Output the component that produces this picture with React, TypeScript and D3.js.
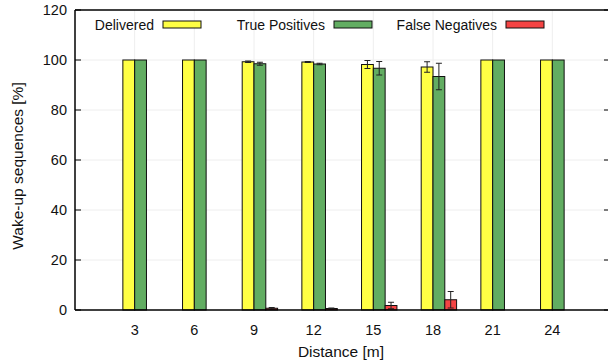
import React from "react";
import * as d3 from "d3";

const distances = [3, 6, 9, 12, 15, 18, 21, 24];
const delivered = [100, 100, 99.3, 99.2, 98.2, 97.2, 100, 100];
const deliveredErr = [0, 0, 0.3, 0.2, 1.6, 2.1, 0, 0];
const truePos = [100, 100, 98.5, 98.4, 96.7, 93.4, 100, 100];
const truePosErr = [0, 0, 0.6, 0.3, 2.7, 5.3, 0, 0];
const falseNeg = [0, 0, 0.7, 0.6, 1.8, 4.1, 0, 0];
const falseNegErr = [0, 0, 0.3, 0.2, 1.3, 3.3, 0, 0];
const yTicks = [0, 20, 40, 60, 80, 100, 120];

const series = [
  { name: "Delivered", values: delivered, errs: deliveredErr, color: "#ffff44", offset: -1 },
  { name: "True Positives", values: truePos, errs: truePosErr, color: "#62ad62", offset: 0 },
  { name: "False Negatives", values: falseNeg, errs: falseNegErr, color: "#f44444", offset: 1 },
];

export default function App() {
  const W = 608, H = 360;
  const left = 75, right = 612, top = 10, bottom = 310;
  const x = d3.scaleLinear().domain([0, 27]).range([left, right]);
  const y = d3.scaleLinear().domain([0, 120]).range([bottom, top]);
  const bw = 11.8;
  const font = "'Liberation Sans', Arial, sans-serif";
  const legendPos = [
    { tx: 154, bx: 163 },
    { tx: 325, bx: 334 },
    { tx: 497, bx: 506 },
  ];
  return (
    <svg width={W} height={H} style={{ position: "absolute", left: 0, top: 0, background: "#fff" }} fontFamily={font}>
      {yTicks.slice(1, -1).map((t) => (
        <line key={"gy" + t} x1={left} x2={right} y1={y(t)} y2={y(t)} stroke="#eeeeee" strokeWidth={1} />
      ))}
      {distances.map((d) => (
        <line key={"gx" + d} x1={x(d)} x2={x(d)} y1={top} y2={bottom} stroke="#eeeeee" strokeWidth={1} />
      ))}
      {series.map((s) =>
        distances.map((d, i) => {
          const x0 = x(d) + s.offset * bw;
          const v = s.values[i];
          const yt = y(v);
          return (
            <g key={s.name + d}>
              {v > 0 && (
                <rect x={x0} y={yt} width={bw} height={bottom - yt} fill={s.color} stroke="#111" strokeWidth={1} />
              )}
              {s.errs[i] > 0 && (
                <g stroke="#222" strokeWidth={1}>
                  <line x1={x0 + bw / 2} x2={x0 + bw / 2} y1={y(v + s.errs[i])} y2={y(Math.max(0, v - s.errs[i]))} />
                  <line x1={x0 + bw / 2 - 3} x2={x0 + bw / 2 + 3} y1={y(v + s.errs[i])} y2={y(v + s.errs[i])} />
                  <line x1={x0 + bw / 2 - 3} x2={x0 + bw / 2 + 3} y1={y(v - s.errs[i])} y2={y(v - s.errs[i])} />
                </g>
              )}
            </g>
          );
        })
      )}
      <line x1={left} x2={right} y1={top} y2={top} stroke="#000" strokeWidth={1.5} />
      <line x1={left} x2={right} y1={bottom} y2={bottom} stroke="#000" strokeWidth={1.5} />
      <line x1={left} x2={left} y1={top} y2={bottom} stroke="#000" strokeWidth={1.5} />
      <line x1={right} x2={right} y1={top} y2={bottom} stroke="#000" strokeWidth={1.5} />
      {yTicks.map((t) => (
        <g key={"yt" + t}>
          <line x1={left} x2={left + 6} y1={y(t)} y2={y(t)} stroke="#000" />
          <line x1={right - 8} x2={right} y1={y(t)} y2={y(t)} stroke="#000" />
          <text x={67} y={y(t) + 5} textAnchor="end" fontSize={14.5} fill="#111">{t}</text>
        </g>
      ))}
      {distances.map((d) => (
        <text key={"xt" + d} x={x(d)} y={335} textAnchor="middle" fontSize={14.5} fill="#111">{d}</text>
      ))}
      <text x={341} y={357} textAnchor="middle" fontSize={15.5} fill="#111">Distance [m]</text>
      <text transform={`translate(23,${(top + bottom) / 2 + 6}) rotate(-90)`} textAnchor="middle" fontSize={15.5} fill="#111">Wake-up sequences [%]</text>
      {series.map((s, i) => (
        <g key={"lg" + s.name}>
          <text x={legendPos[i].tx} y={30} textAnchor="end" fontSize={14} fill="#111">{s.name}</text>
          <rect x={legendPos[i].bx} y={21} width={38} height={7} fill={s.color} stroke="#111" strokeWidth={1} />
        </g>
      ))}
    </svg>
  );
}
